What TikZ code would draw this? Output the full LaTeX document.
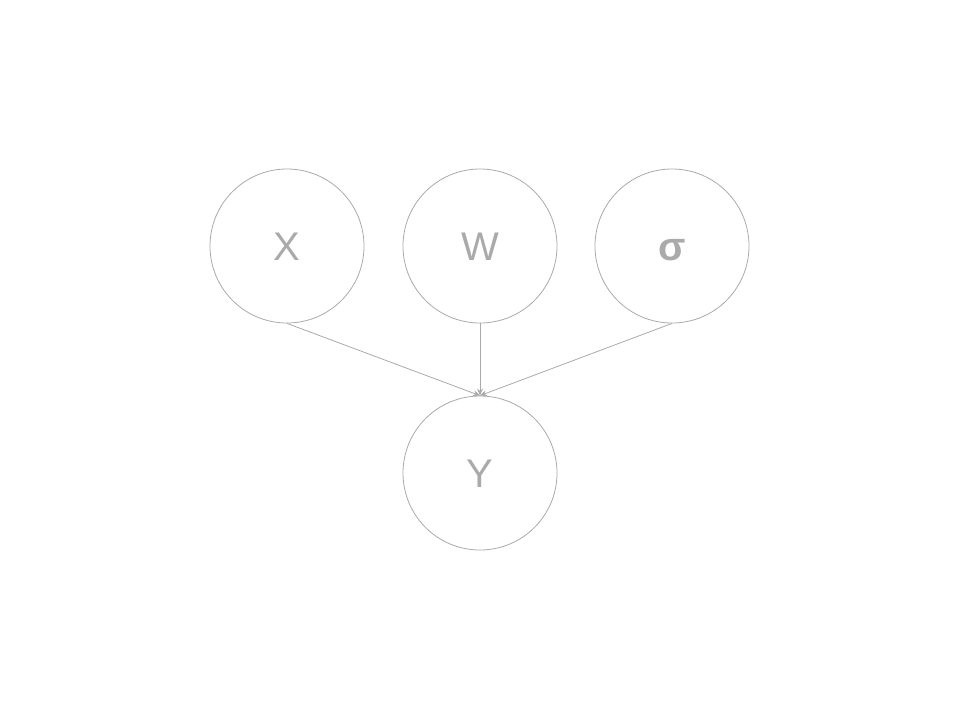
\documentclass[tikz,border=0pt]{standalone}
\usepackage{fontspec}
\setmainfont{Liberation Sans}
\usetikzlibrary{arrows.meta}
\definecolor{gr}{HTML}{AAAAAA}
\begin{document}
\begin{tikzpicture}[x=1pt,y=-1pt,
  var/.style={circle,draw=gr,line width=0.8pt,minimum size=154pt,inner sep=0pt,text=gr,text height=29pt,text depth=0pt,font=\fontsize{40}{48}\selectfont},
  conn/.style={draw=gr,line width=0.8pt,-{Stealth[length=7pt,width=6pt]}}]
\useasboundingbox (0,0) rectangle (960,720);
\node[var] (X) at (287,246) {X};
\node[var] (W) at (480,246) {W};
\node[var] (S) at (672,246) {\bfseries σ};
\node[var] (Y) at (480,473) {Y};
\draw[conn] (X.south) -- (Y.north);
\draw[conn] (W.south) -- (Y.north);
\draw[conn] (S.south) -- (Y.north);
\end{tikzpicture}
\end{document}
